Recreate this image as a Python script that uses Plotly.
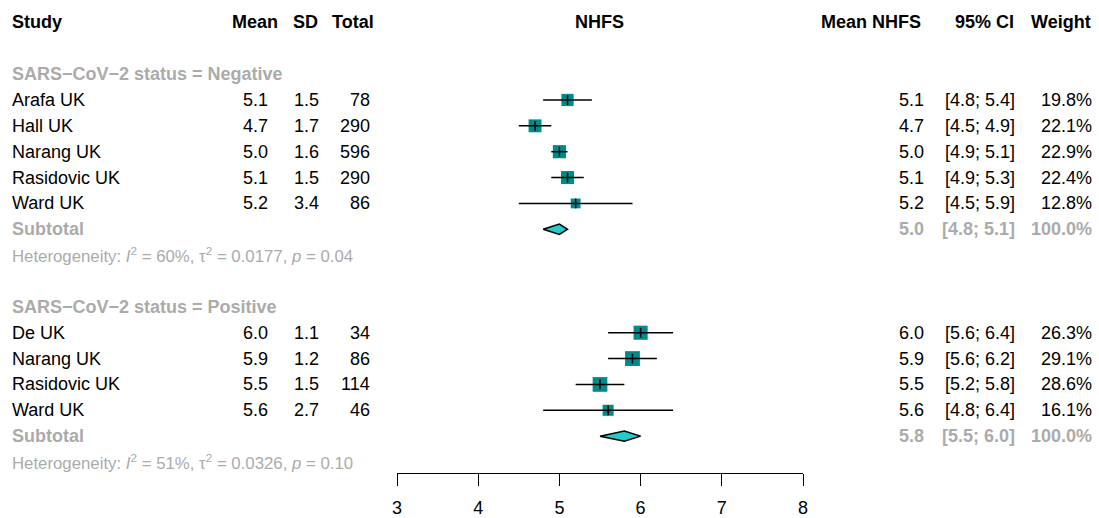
import plotly.graph_objects as go

# ---- data -------------------------------------------------------------
neg_study = ["Arafa UK", "Hall UK", "Narang UK", "Rasidovic UK", "Ward UK"]
neg_mean = [5.1, 4.7, 5.0, 5.1, 5.2]
neg_sd = [1.5, 1.7, 1.6, 1.5, 3.4]
neg_n = [78, 290, 596, 290, 86]
neg_lo = [4.8, 4.5, 4.9, 4.9, 4.5]
neg_hi = [5.4, 4.9, 5.1, 5.3, 5.9]
neg_w = [19.8, 22.1, 22.9, 22.4, 12.8]
neg_pooled = [5.0, 4.8, 5.1]          # estimate, lower, upper
neg_het = "Heterogeneity: <i>I</i><sup>2</sup> = 60%, τ<sup>2</sup> = 0.0177, <i>p</i> = 0.04"

pos_study = ["De UK", "Narang UK", "Rasidovic UK", "Ward UK"]
pos_mean = [6.0, 5.9, 5.5, 5.6]
pos_sd = [1.1, 1.2, 1.5, 2.7]
pos_n = [34, 86, 114, 46]
pos_lo = [5.6, 5.6, 5.2, 4.8]
pos_hi = [6.4, 6.2, 5.8, 6.4]
pos_w = [26.3, 29.1, 28.6, 16.1]
pos_pooled = [5.8, 5.5, 6.0]
pos_het = "Heterogeneity: <i>I</i><sup>2</sup> = 51%, τ<sup>2</sup> = 0.0326, <i>p</i> = 0.10"

axis_ticks = [3, 4, 5, 6, 7, 8]

# ---- layout constants ---------------------------------------------------
W, H = 1099, 518
ROW0_PX, ROW_PX = 22.4, 25.86
AXIS_PX = 473
FONT = "Liberation Sans, Arial, Helvetica, sans-serif"
FS = 18
FS_HET = 16.8
GREY = "#ABABAB"
SQ_COL = "#008B8B"
DIA_COL = "#22CCCC"


def px(x):
    return x / W


# group definitions with their starting rows
groups = [
    dict(label="SARS−CoV−2 status = Negative", row=2, study=neg_study, mean=neg_mean,
         sd=neg_sd, n=neg_n, lo=neg_lo, hi=neg_hi, w=neg_w, pooled=neg_pooled, het=neg_het),
    dict(label="SARS−CoV−2 status = Positive", row=11, study=pos_study, mean=pos_mean,
         sd=pos_sd, n=pos_n, lo=pos_lo, hi=pos_hi, w=pos_w, pooled=pos_pooled, het=pos_het),
]

fig = go.Figure()
ann = []


def text(x, row, s, anchor, color="black", size=FS, bold=False):
    if bold:
        s = "<b>" + s + "</b>"
    ann.append(dict(x=px(x), y=row, xref="paper", yref="y", text=s, showarrow=False,
                    xanchor=anchor, yanchor="middle", borderpad=0, borderwidth=0,
                    font=dict(family=FONT, size=size, color=color)))


# column headers
text(12, 0, "Study", "left", bold=True)
text(255, 0, "Mean", "center", bold=True)
text(305, 0, "SD", "center", bold=True)
text(353, 0, "Total", "center", bold=True)
text(599, 0, "NHFS", "center", bold=True)
text(921, 0, "Mean NHFS", "right", bold=True)
text(1014, 0, "95% CI", "right", bold=True)
text(1091, 0, "Weight", "right", bold=True)

sq_x, sq_y, sq_s = [], [], []
ci_x, ci_y = [], []
dia_x, dia_y = [], []
DIA_H = 0.2

for g in groups:
    r0 = g["row"]
    text(12, r0, g["label"], "left", color=GREY, bold=True)
    for i, name in enumerate(g["study"]):
        r = r0 + 1 + i
        text(12, r, name, "left")
        text(268, r, f"{g['mean'][i]:.1f}", "right")
        text(319, r, f"{g['sd'][i]:.1f}", "right")
        text(370, r, f"{g['n'][i]}", "right")
        text(924, r, f"{g['mean'][i]:.1f}", "right")
        text(1015, r, f"[{g['lo'][i]:.1f}; {g['hi'][i]:.1f}]", "right")
        text(1092, r, f"{g['w'][i]:.1f}%", "right")
        sq_x.append(g["mean"][i])
        sq_y.append(r)
        sq_s.append(2.75 * g["w"][i] ** 0.5)
        ci_x += [g["lo"][i], g["hi"][i], None]
        ci_y += [r, r, None]
    rs = r0 + 1 + len(g["study"])
    est, lo, hi = g["pooled"]
    text(12, rs, "Subtotal", "left", color=GREY, bold=True)
    text(924, rs, f"{est:.1f}", "right", color=GREY, bold=True)
    text(1015, rs, f"[{lo:.1f}; {hi:.1f}]", "right", color=GREY, bold=True)
    text(1092, rs, "100.0%", "right", color=GREY, bold=True)
    text(12, rs + 1, g["het"], "left", color=GREY, size=FS_HET)
    dia_x += [lo, est, hi, est, lo, None]
    dia_y += [rs, rs - DIA_H, rs, rs + DIA_H, rs, None]

# study squares (area ~ weight)
fig.add_trace(go.Scatter(x=sq_x, y=sq_y, mode="markers", hoverinfo="skip",
                         marker=dict(symbol="square", size=sq_s, color=SQ_COL,
                                     opacity=1, line=dict(width=0))))
# confidence intervals
fig.add_trace(go.Scatter(x=ci_x, y=ci_y, mode="lines", hoverinfo="skip",
                         line=dict(color="black", width=1.5)))
# point-estimate ticks
fig.add_trace(go.Scatter(x=sq_x, y=sq_y, mode="markers", hoverinfo="skip",
                         marker=dict(symbol="line-ns", size=7, opacity=1,
                                     line=dict(color="black", width=1.5))))
# pooled diamonds
fig.add_trace(go.Scatter(x=dia_x, y=dia_y, mode="lines", fill="toself", hoverinfo="skip",
                         fillcolor=DIA_COL, line=dict(color="black", width=1.5)))

y_top = -ROW0_PX / ROW_PX
y_bot = (AXIS_PX - ROW0_PX) / ROW_PX

fig.update_layout(
    width=W, height=H, showlegend=False,
    paper_bgcolor="white", plot_bgcolor="white",
    margin=dict(l=0, r=0, t=0, b=0, autoexpand=False),
    annotations=ann,
    xaxis=dict(domain=[px(397), px(803)], range=[3, 8], tickvals=axis_ticks,
               showgrid=False, zeroline=False, showline=True, linecolor="black",
               linewidth=1.3, ticks="outside", ticklen=12, tickwidth=1.3,
               tickcolor="black", ticklabelstandoff=6,
               tickfont=dict(family=FONT, size=FS, color="black")),
    yaxis=dict(domain=[(H - AXIS_PX) / H, 1], range=[y_bot, y_top], visible=False),
)

fig.write_html("out.html")
